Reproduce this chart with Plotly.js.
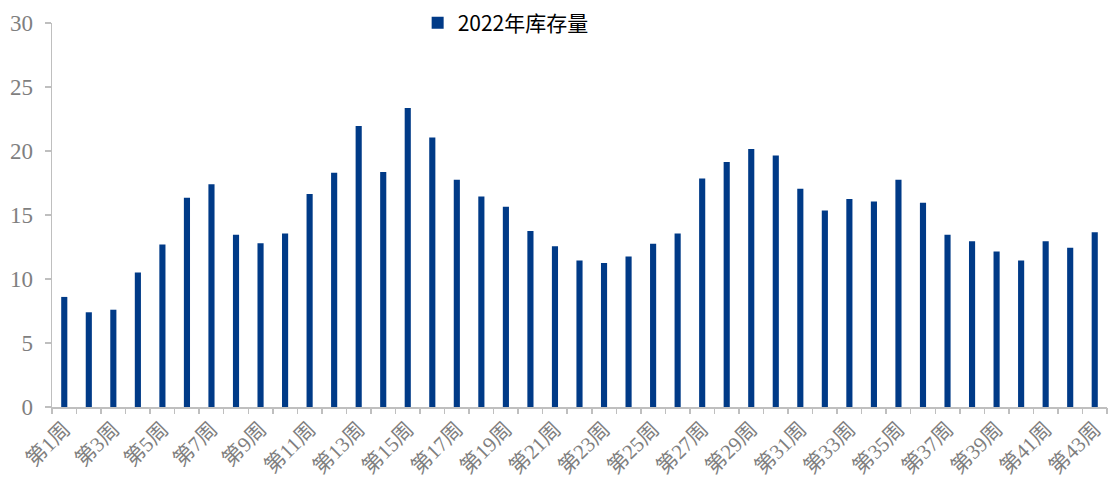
<!DOCTYPE html>
<html>
<head>
<meta charset="utf-8">
<script src="https://cdn.plot.ly/plotly-3.0.1.min.js"></script>
<style>html,body{margin:0;padding:0;background:#fff;}#chart{width:1109px;height:489px;}</style>
</head>
<body>
<div id="chart"></div>
<script>
const weeks = Array.from({length: 43}, (_, i) => "第" + (i + 1) + "周");
const seriesName = "2022年库存量";
const inventory2022 = [
  8.6, 7.4, 7.6, 10.5, 12.7, 16.35, 17.4, 13.45, 12.8, 13.55,
  16.65, 18.3, 21.95, 18.35, 23.35, 21.05, 17.75, 16.45, 15.65, 13.75,
  12.55, 11.45, 11.25, 11.75, 12.75, 13.55, 17.85, 19.15, 20.15, 19.65,
  17.05, 15.35, 16.25, 16.05, 17.75, 15.95, 13.45, 12.95, 12.15, 11.45,
  12.95, 12.45, 13.65
];
const xIdx = weeks.map((_, i) => i + 1);
const tickIdx = xIdx.filter(v => v % 2 === 1);
const tickText = tickIdx.map(v => weeks[v - 1]);

const trace = {
  type: 'bar',
  name: seriesName,
  x: xIdx,
  y: inventory2022,
  marker: {color: '#003A87'},
  showlegend: true,
  hovertext: weeks
};
// invisible helper trace so the overlay axis (category boundary ticks) is drawn
const helper = {
  type: 'scatter', mode: 'markers', x: [1], y: [0],
  xaxis: 'x2', yaxis: 'y', marker: {opacity: 0}, showlegend: false, hoverinfo: 'skip'
};

const serif = '"Liberation Serif", "Times New Roman", "Noto Sans CJK SC", serif';
const layout = {
  width: 1109, height: 489,
  margin: {l: 52, r: 2, t: 23, b: 82},
  paper_bgcolor: '#ffffff', plot_bgcolor: '#ffffff',
  bargap: 0.75,
  showlegend: true,
  legend: {
    orientation: 'h', x: 0.43, xanchor: 'center', y: 1.0, yanchor: 'middle',
    font: {family: '"Noto Sans CJK SC", sans-serif', size: 21, color: '#000000'},
    bgcolor: 'rgba(0,0,0,0)', itemwidth: 30
  },
  xaxis: {
    range: [0.5, 43.5],
    tickmode: 'array', tickvals: tickIdx, ticktext: tickText,
    ticks: '', tickangle: -45, automargin: false,
    tickfont: {family: serif, size: 21, color: '#7F7F7F'},
    showline: true, linecolor: '#BFBFBF', linewidth: 1.5,
    showgrid: false, zeroline: false
  },
  xaxis2: {
    overlaying: 'x', anchor: 'y', side: 'bottom',
    range: [0.5, 43.5], tick0: 0.5, dtick: 1,
    ticks: 'outside', ticklen: 6, tickcolor: '#BFBFBF', tickwidth: 1.5,
    showticklabels: false, showline: false, showgrid: false, zeroline: false
  },
  yaxis: {
    range: [0, 30], dtick: 5, tick0: 0,
    ticks: 'outside', ticklen: 6, tickcolor: '#BFBFBF', tickwidth: 1.5,
    tickfont: {family: serif, size: 23, color: '#7F7F7F'},
    ticklabelstandoff: 7, automargin: false,
    showline: true, linecolor: '#BFBFBF', linewidth: 1.5,
    showgrid: false, zeroline: false
  }
};

Plotly.newPlot('chart', [trace, helper], layout, {displayModeBar: false, staticPlot: true});
</script>
</body>
</html>
